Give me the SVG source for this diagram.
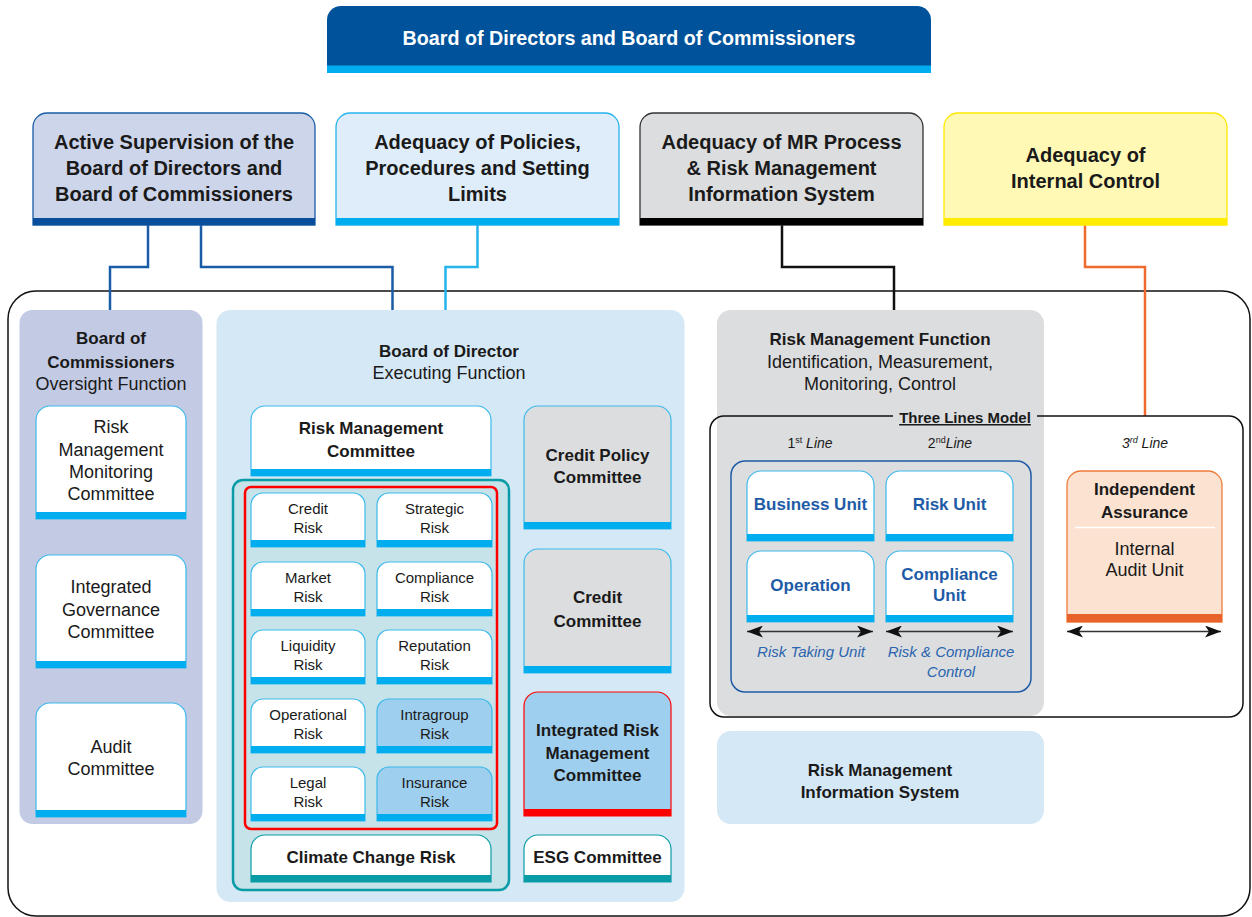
<svg xmlns="http://www.w3.org/2000/svg" width="1252" height="917" viewBox="0 0 1252 917">
<defs>
<marker id="ah" viewBox="0 0 16 12" refX="16" refY="6" markerWidth="16" markerHeight="12" markerUnits="userSpaceOnUse" orient="auto-start-reverse">
<path d="M0,0 L16,6 L0,12 L4,6 Z" fill="#111"/>
</marker>
</defs>
<style>
text{font-family:"Liberation Sans",Arial,sans-serif;fill:#1a1a1a;text-anchor:middle}
.b{font-weight:bold}
.s20{font-size:20px}
.s19{font-size:19.7px}
.s18{font-size:18px}
.s17{font-size:17px}
.s15{font-size:15px}
.s14{font-size:14px}
.wb{fill:#fff;stroke:#3BB9EC;stroke-width:1.2}
.lb{fill:#9FCFEE;stroke:#3BB9EC;stroke-width:1.2}
.gb{fill:#DCDDDF;stroke:#3BB9EC;stroke-width:1.2}
.tb{fill:#fff;stroke:#0A9CA6;stroke-width:1.2}
.cy{fill:#00AEEF}
.tl{fill:#0A9CA6}
.blue{fill:#1E5BA6}
.ital{font-style:italic;fill:#2A65AE}
.con{fill:none;stroke-width:2.5}
.arr{stroke:#333;stroke-width:1.5;marker-start:url(#ah);marker-end:url(#ah)}
</style>

<!-- outer frame -->
<rect x="8" y="291" width="1242" height="625" rx="28" fill="#fff" stroke="#111" stroke-width="1.5"/>

<g id="connectors">
<path class="con" stroke="#1A5CA7" d="M148,225 V267 H110 V310"/>
<path class="con" stroke="#1A5CA7" d="M201,225 V267 H392.5 V310"/>
<path class="con" stroke="#25B4EC" d="M477.5,225 V267 H445.5 V310"/>
<path class="con" stroke="#111" d="M782,225 V267 H894 V310"/>
<path class="con" stroke="#EE6B2F" d="M1085,225 V267 H1145 V416"/>
</g>

<g id="banner">
<path d="M327,73 V20 A14,14 0 0 1 341,6 H917 A14,14 0 0 1 931,20 V73 Z" fill="#00529B"/>
<rect x="327" y="65.5" width="604" height="7.5" class="cy"/>
<text x="629" y="45" class="b s19" style="fill:#fff">Board of Directors and Board of Commissioners</text>
</g>

<g id="active-supervision">
<path d="M33,225 V127 A14,14 0 0 1 47,113 H301 A14,14 0 0 1 315,127 V225 Z" fill="#CDD5EA" stroke="#1A5CA7" stroke-width="1.3"/>
<rect x="33" y="218" width="282" height="7" fill="#0A4F9B"/>
<text x="174" y="149" class="b s20">Active Supervision of the</text>
<text x="174" y="175" class="b s20">Board of Directors and</text>
<text x="174" y="201" class="b s20">Board of Commissioners</text>
</g>

<g id="adequacy-policies">
<path d="M336,225 V127 A14,14 0 0 1 350,113 H605 A14,14 0 0 1 619,127 V225 Z" fill="#DEEDF9" stroke="#25B4EC" stroke-width="1.3"/>
<rect x="336" y="218" width="283" height="7" class="cy"/>
<text x="477.5" y="149" class="b s20">Adequacy of Policies,</text>
<text x="477.5" y="175" class="b s20">Procedures and Setting</text>
<text x="477.5" y="201" class="b s20">Limits</text>
</g>

<g id="adequacy-mr">
<path d="M640,225 V127 A14,14 0 0 1 654,113 H909 A14,14 0 0 1 923,127 V225 Z" fill="#DCDDDF" stroke="#333" stroke-width="1.3"/>
<rect x="640" y="218" width="283" height="7" fill="#000"/>
<text x="781.5" y="149" class="b s20">Adequacy of MR Process</text>
<text x="781.5" y="175" class="b s20">&amp; Risk Management</text>
<text x="781.5" y="201" class="b s20">Information System</text>
</g>

<g id="adequacy-internal-control">
<path d="M944,225 V127 A14,14 0 0 1 958,113 H1213 A14,14 0 0 1 1227,127 V225 Z" fill="#FFF9B5" stroke="#FFE800" stroke-width="1.3"/>
<rect x="944" y="218" width="283" height="7" fill="#FFEC00"/>
<text x="1085.5" y="162" class="b s20">Adequacy of</text>
<text x="1085.5" y="188" class="b s20">Internal Control</text>
</g>

<!-- Board of Commissioners panel -->
<g id="boc-panel">
<rect x="19.5" y="310" width="183" height="514" rx="13" fill="#C2CAE4"/>
<text x="111" y="344" class="b s17">Board of</text>
<text x="111" y="368" class="b s17">Commissioners</text>
<text x="111" y="390" class="s18">Oversight Function</text>
</g>
<g id="rmmc">
<path class="wb" d="M36,519 V420 A14,14 0 0 1 50,406 H172 A14,14 0 0 1 186,420 V519 Z"/>
<rect x="36" y="512" width="150" height="7" class="cy"/>
<text x="111" y="433" class="s18">Risk</text>
<text x="111" y="456" class="s18">Management</text>
<text x="111" y="478" class="s18">Monitoring</text>
<text x="111" y="500" class="s18">Committee</text>
</g>
<g id="igc">
<path class="wb" d="M36,668 V569 A14,14 0 0 1 50,555 H172 A14,14 0 0 1 186,569 V668 Z"/>
<rect x="36" y="661" width="150" height="7" class="cy"/>
<text x="111" y="593" class="s18">Integrated</text>
<text x="111" y="616" class="s18">Governance</text>
<text x="111" y="638" class="s18">Committee</text>
</g>
<g id="audit">
<path class="wb" d="M36,817 V717 A14,14 0 0 1 50,703 H172 A14,14 0 0 1 186,717 V817 Z"/>
<rect x="36" y="810" width="150" height="7" class="cy"/>
<text x="111" y="753" class="s18">Audit</text>
<text x="111" y="775" class="s18">Committee</text>
</g>

<!-- Board of Director panel -->
<g id="bod-panel">
<rect x="216.5" y="310" width="468" height="592" rx="14" fill="#D5E8F6"/>
<text x="449" y="357" class="b s17">Board of Director</text>
<text x="449" y="379" class="s18">Executing Function</text>
</g>
<g id="rmc">
<path class="wb" d="M251,476 V420 A14,14 0 0 1 265,406 H477 A14,14 0 0 1 491,420 V476 Z"/>
<rect x="251" y="469" width="240" height="7" class="cy"/>
<text x="371" y="434" class="b s17">Risk Management</text>
<text x="371" y="457" class="b s17">Committee</text>
</g>
<g id="risk-group">
<rect x="233" y="480" width="276" height="410" rx="10" fill="#C5E3E8" stroke="#0A9CA6" stroke-width="2.5"/>
<rect x="245" y="487" width="252" height="342" rx="6" fill="none" stroke="#FF0000" stroke-width="2.5"/>
</g>
<g id="credit-risk">
<path class="wb" d="M251,547 V505 A12,12 0 0 1 263,493 H353 A12,12 0 0 1 365,505 V547 Z"/>
<rect x="251" y="540" width="114" height="7" class="cy"/>
<text x="308" y="514" class="s15">Credit</text><text x="308" y="533" class="s15">Risk</text>
</g>
<g id="strategic-risk">
<path class="wb" d="M377,547 V505 A12,12 0 0 1 389,493 H480 A12,12 0 0 1 492,505 V547 Z"/>
<rect x="377" y="540" width="115" height="7" class="cy"/>
<text x="434.5" y="514" class="s15">Strategic</text><text x="434.5" y="533" class="s15">Risk</text>
</g>
<g id="market-risk">
<path class="wb" d="M251,616 V574 A12,12 0 0 1 263,562 H353 A12,12 0 0 1 365,574 V616 Z"/>
<rect x="251" y="609" width="114" height="7" class="cy"/>
<text x="308" y="583" class="s15">Market</text><text x="308" y="602" class="s15">Risk</text>
</g>
<g id="compliance-risk">
<path class="wb" d="M377,616 V574 A12,12 0 0 1 389,562 H480 A12,12 0 0 1 492,574 V616 Z"/>
<rect x="377" y="609" width="115" height="7" class="cy"/>
<text x="434.5" y="583" class="s15">Compliance</text><text x="434.5" y="602" class="s15">Risk</text>
</g>
<g id="liquidity-risk">
<path class="wb" d="M251,684 V642 A12,12 0 0 1 263,630 H353 A12,12 0 0 1 365,642 V684 Z"/>
<rect x="251" y="677" width="114" height="7" class="cy"/>
<text x="308" y="651" class="s15">Liquidity</text><text x="308" y="670" class="s15">Risk</text>
</g>
<g id="reputation-risk">
<path class="wb" d="M377,684 V642 A12,12 0 0 1 389,630 H480 A12,12 0 0 1 492,642 V684 Z"/>
<rect x="377" y="677" width="115" height="7" class="cy"/>
<text x="434.5" y="651" class="s15">Reputation</text><text x="434.5" y="670" class="s15">Risk</text>
</g>
<g id="operational-risk">
<path class="wb" d="M251,753 V711 A12,12 0 0 1 263,699 H353 A12,12 0 0 1 365,711 V753 Z"/>
<rect x="251" y="746" width="114" height="7" class="cy"/>
<text x="308" y="720" class="s15">Operational</text><text x="308" y="739" class="s15">Risk</text>
</g>
<g id="intragroup-risk">
<path class="lb" d="M377,753 V711 A12,12 0 0 1 389,699 H480 A12,12 0 0 1 492,711 V753 Z"/>
<rect x="377" y="746" width="115" height="7" class="cy"/>
<text x="434.5" y="720" class="s15">Intragroup</text><text x="434.5" y="739" class="s15">Risk</text>
</g>
<g id="legal-risk">
<path class="wb" d="M251,821 V779 A12,12 0 0 1 263,767 H353 A12,12 0 0 1 365,779 V821 Z"/>
<rect x="251" y="814" width="114" height="7" class="cy"/>
<text x="308" y="788" class="s15">Legal</text><text x="308" y="807" class="s15">Risk</text>
</g>
<g id="insurance-risk">
<path class="lb" d="M377,821 V779 A12,12 0 0 1 389,767 H480 A12,12 0 0 1 492,779 V821 Z"/>
<rect x="377" y="814" width="115" height="7" class="cy"/>
<text x="434.5" y="788" class="s15">Insurance</text><text x="434.5" y="807" class="s15">Risk</text>
</g>
<g id="climate-risk">
<path class="tb" d="M251,882 V849 A14,14 0 0 1 265,835 H477 A14,14 0 0 1 491,849 V882 Z"/>
<rect x="251" y="875" width="240" height="7" class="tl"/>
<text x="371" y="863" class="b s17">Climate Change Risk</text>
</g>
<g id="credit-policy">
<path class="gb" d="M524,529 V420 A14,14 0 0 1 538,406 H657 A14,14 0 0 1 671,420 V529 Z"/>
<rect x="524" y="522" width="147" height="7" class="cy"/>
<text x="597.5" y="461" class="b s17">Credit Policy</text>
<text x="597.5" y="483" class="b s17">Committee</text>
</g>
<g id="credit-committee">
<path class="gb" d="M524,673 V563 A14,14 0 0 1 538,549 H657 A14,14 0 0 1 671,563 V673 Z"/>
<rect x="524" y="666" width="147" height="7" class="cy"/>
<text x="597.5" y="603" class="b s17">Credit</text>
<text x="597.5" y="627" class="b s17">Committee</text>
</g>
<g id="irmc">
<path d="M524,816 V706 A14,14 0 0 1 538,692 H657 A14,14 0 0 1 671,706 V816 Z" fill="#9FCFEE" stroke="#FF0000" stroke-width="1.2"/>
<rect x="524" y="809" width="147" height="7" fill="#FF0000"/>
<text x="597.5" y="736" class="b s17">Integrated Risk</text>
<text x="597.5" y="759" class="b s17">Management</text>
<text x="597.5" y="781" class="b s17">Committee</text>
</g>
<g id="esg">
<path class="tb" d="M524,882 V849 A14,14 0 0 1 538,835 H657 A14,14 0 0 1 671,849 V882 Z"/>
<rect x="524" y="875" width="147" height="7" class="tl"/>
<text x="597.5" y="863" class="b s17">ESG Committee</text>
</g>

<!-- Risk Management Function panel -->
<g id="rmf-panel">
<rect x="717" y="310" width="327" height="406" rx="14" fill="#DCDDDF"/>
<text x="880" y="345" class="b s17">Risk Management Function</text>
<text x="880" y="368" class="s18">Identification, Measurement,</text>
<text x="880" y="390" class="s18">Monitoring, Control</text>
</g>
<g id="three-lines-model">
<rect x="710" y="416" width="533" height="301" rx="14" fill="none" stroke="#111" stroke-width="1.5"/>
<rect x="893" y="410" width="144" height="12" fill="#DCDDDF"/>
<text x="965" y="423" class="b s15" style="text-decoration:underline">Three Lines Model</text>
<text x="810" y="448" class="s14">1<tspan dy="-5" font-size="9">st</tspan><tspan dy="5" font-style="italic"> Line</tspan></text>
<text x="950" y="448" class="s14">2<tspan dy="-5" font-size="9">nd</tspan><tspan dy="5" font-style="italic">Line</tspan></text>
<text x="1145" y="448" class="s14" font-style="italic">3<tspan dy="-5" font-size="9">rd</tspan><tspan dy="5"> Line</tspan></text>
<rect x="731" y="461" width="300" height="231" rx="14" fill="none" stroke="#1E5BA6" stroke-width="1.5"/>
</g>
<g id="business-unit">
<path class="wb" d="M747,541 V485 A14,14 0 0 1 761,471 H860 A14,14 0 0 1 874,485 V541 Z"/>
<rect x="747" y="534" width="127" height="7" class="cy"/>
<text x="810.5" y="510" class="b s17 blue">Business Unit</text>
</g>
<g id="risk-unit">
<path class="wb" d="M886,541 V485 A14,14 0 0 1 900,471 H999 A14,14 0 0 1 1013,485 V541 Z"/>
<rect x="886" y="534" width="127" height="7" class="cy"/>
<text x="949.5" y="510" class="b s17 blue">Risk Unit</text>
</g>
<g id="operation">
<path class="wb" d="M747,622 V565 A14,14 0 0 1 761,551 H860 A14,14 0 0 1 874,565 V622 Z"/>
<rect x="747" y="615" width="127" height="7" class="cy"/>
<text x="810.5" y="591" class="b s17 blue">Operation</text>
</g>
<g id="compliance-unit">
<path class="wb" d="M886,622 V565 A14,14 0 0 1 900,551 H999 A14,14 0 0 1 1013,565 V622 Z"/>
<rect x="886" y="615" width="127" height="7" class="cy"/>
<text x="949.5" y="580" class="b s17 blue">Compliance</text>
<text x="949.5" y="601" class="b s17 blue">Unit</text>
</g>
<g id="independent-assurance">
<path d="M1067,622 V485 A14,14 0 0 1 1081,471 H1208 A14,14 0 0 1 1222,485 V622 Z" fill="#FCE3D1" stroke="#EE7B3A" stroke-width="1.3"/>
<rect x="1067" y="614" width="155" height="8" fill="#E8622C"/>
<text x="1144.5" y="495" class="b s17">Independent</text>
<text x="1144.5" y="518" class="b s17">Assurance</text>
<line x1="1075" y1="527.5" x2="1215" y2="527.5" stroke="#fff" stroke-width="1.5"/>
<text x="1144.5" y="555" class="s18">Internal</text>
<text x="1144.5" y="576" class="s18">Audit Unit</text>
</g>
<g id="line-arrows">
<line class="arr" x1="747" y1="631.5" x2="873" y2="631.5"/>
<line class="arr" x1="886" y1="631.5" x2="1013" y2="631.5"/>
<line class="arr" x1="1067" y1="631.5" x2="1221" y2="631.5"/>
<text x="811" y="657" class="s15 ital">Risk Taking Unit</text>
<text x="951" y="657" class="s15 ital">Risk &amp; Compliance</text>
<text x="951" y="677" class="s15 ital">Control</text>
</g>
<g id="rmis">
<rect x="717" y="731" width="327" height="93" rx="14" fill="#D5E8F6"/>
<text x="880" y="776" class="b s17">Risk Management</text>
<text x="880" y="798" class="b s17">Information System</text>
</g>
</svg>
